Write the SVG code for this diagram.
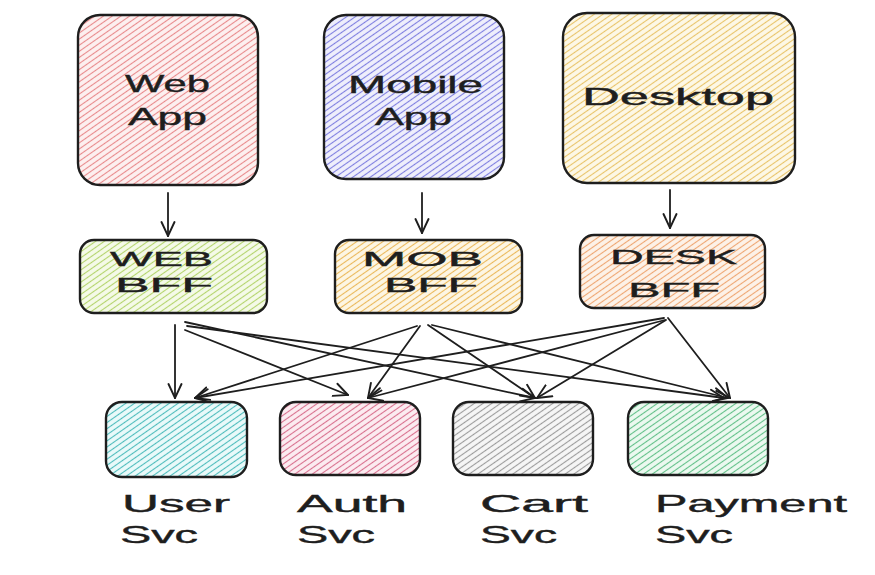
<svg xmlns="http://www.w3.org/2000/svg" width="875" height="575" viewBox="0 0 875 575">
<style>
.box{stroke:#1e1e1e;stroke-width:2.4;}
.lbl{font-family:"Liberation Sans","DejaVu Sans",sans-serif;font-size:24px;fill:#1e1e1e;stroke:#1e1e1e;stroke-width:0.4;}
.sm{font-size:21px;}
.con{fill:none;stroke:#1e1e1e;stroke-width:1.8;stroke-linecap:round;}
</style>
<defs>
<marker id="ah" viewBox="0 0 16 16" refX="15" refY="8" markerWidth="16" markerHeight="16" markerUnits="userSpaceOnUse" orient="auto">
<path d="M1,1.5 L15,8 L1,14.5" fill="none" stroke="#1e1e1e" stroke-width="1.9" stroke-linecap="round"/>
</marker>
<pattern id="pRed" patternUnits="userSpaceOnUse" width="5" height="5" patternTransform="rotate(-35)"><rect width="5" height="5" fill="#fdf0f0"/><line x1="0" y1="2.5" x2="5" y2="2.5" stroke="#e88a8c" stroke-width="1.1"/></pattern>
<pattern id="pPurple" patternUnits="userSpaceOnUse" width="5" height="5" patternTransform="rotate(-35)"><rect width="5" height="5" fill="#efeffc"/><line x1="0" y1="2.5" x2="5" y2="2.5" stroke="#7f7fe0" stroke-width="1.1"/></pattern>
<pattern id="pYellow" patternUnits="userSpaceOnUse" width="5" height="5" patternTransform="rotate(-35)"><rect width="5" height="5" fill="#fdf8e6"/><line x1="0" y1="2.5" x2="5" y2="2.5" stroke="#e8c46a" stroke-width="1.1"/></pattern>
<pattern id="pGreenY" patternUnits="userSpaceOnUse" width="5" height="5" patternTransform="rotate(-35)"><rect width="5" height="5" fill="#f5fae8"/><line x1="0" y1="2.5" x2="5" y2="2.5" stroke="#b4d46c" stroke-width="1.1"/></pattern>
<pattern id="pOrangeY" patternUnits="userSpaceOnUse" width="5" height="5" patternTransform="rotate(-35)"><rect width="5" height="5" fill="#fdf6e4"/><line x1="0" y1="2.5" x2="5" y2="2.5" stroke="#eab85a" stroke-width="1.1"/></pattern>
<pattern id="pOrange" patternUnits="userSpaceOnUse" width="5" height="5" patternTransform="rotate(-35)"><rect width="5" height="5" fill="#fdf2e8"/><line x1="0" y1="2.5" x2="5" y2="2.5" stroke="#eea672" stroke-width="1.1"/></pattern>
<pattern id="pTeal" patternUnits="userSpaceOnUse" width="5" height="5" patternTransform="rotate(-35)"><rect width="5" height="5" fill="#eafafa"/><line x1="0" y1="2.5" x2="5" y2="2.5" stroke="#4fbcbc" stroke-width="1.1"/></pattern>
<pattern id="pPink" patternUnits="userSpaceOnUse" width="5" height="5" patternTransform="rotate(-35)"><rect width="5" height="5" fill="#fcecf1"/><line x1="0" y1="2.5" x2="5" y2="2.5" stroke="#d8708e" stroke-width="1.1"/></pattern>
<pattern id="pGray" patternUnits="userSpaceOnUse" width="5" height="5" patternTransform="rotate(-35)"><rect width="5" height="5" fill="#f6f6f6"/><line x1="0" y1="2.5" x2="5" y2="2.5" stroke="#9c9c9c" stroke-width="1.1"/></pattern>
<pattern id="pGreen" patternUnits="userSpaceOnUse" width="5" height="5" patternTransform="rotate(-35)"><rect width="5" height="5" fill="#ecf9f0"/><line x1="0" y1="2.5" x2="5" y2="2.5" stroke="#62c088" stroke-width="1.1"/></pattern>
</defs>
<rect width="875" height="575" fill="#ffffff"/>

<g id="web-app">
<rect class="box" x="78" y="15" width="180" height="170" rx="22" fill="url(#pRed)"/>
<text class="lbl" x="125" y="92" textLength="85" lengthAdjust="spacingAndGlyphs">Web</text>
<text class="lbl" x="128" y="125" textLength="79" lengthAdjust="spacingAndGlyphs">App</text>
</g>
<g id="mobile-app">
<rect class="box" x="324" y="15" width="180" height="164" rx="22" fill="url(#pPurple)"/>
<text class="lbl" x="348" y="93" textLength="135" lengthAdjust="spacingAndGlyphs">Mobile</text>
<text class="lbl" x="375" y="125" textLength="77" lengthAdjust="spacingAndGlyphs">App</text>
</g>
<g id="desktop">
<rect class="box" x="563" y="13" width="232" height="170" rx="24" fill="url(#pYellow)"/>
<text class="lbl" x="582" y="105" textLength="192" lengthAdjust="spacingAndGlyphs">Desktop</text>
</g>

<g id="web-bff">
<rect class="box" x="80" y="240" width="187" height="73" rx="14" fill="url(#pGreenY)"/>
<text class="lbl sm" x="110" y="266" textLength="103" lengthAdjust="spacingAndGlyphs">WEB</text>
<text class="lbl sm" x="115" y="292" textLength="98" lengthAdjust="spacingAndGlyphs">BFF</text>
</g>
<g id="mob-bff">
<rect class="box" x="335" y="240" width="187" height="73" rx="14" fill="url(#pOrangeY)"/>
<text class="lbl sm" x="362" y="266" textLength="121" lengthAdjust="spacingAndGlyphs">MOB</text>
<text class="lbl sm" x="384" y="292" textLength="94" lengthAdjust="spacingAndGlyphs">BFF</text>
</g>
<g id="desk-bff">
<rect class="box" x="580" y="235" width="185" height="73" rx="14" fill="url(#pOrange)"/>
<text class="lbl sm" x="610" y="264" textLength="127" lengthAdjust="spacingAndGlyphs">DESK</text>
<text class="lbl sm" x="628" y="297" textLength="92" lengthAdjust="spacingAndGlyphs">BFF</text>
</g>

<g id="user-svc">
<rect class="box" x="106" y="402" width="141" height="75" rx="16" fill="url(#pTeal)"/>
<text class="lbl" x="122" y="512" textLength="108" lengthAdjust="spacingAndGlyphs">User</text>
<text class="lbl" x="120" y="543" textLength="78" lengthAdjust="spacingAndGlyphs">Svc</text>
</g>
<g id="auth-svc">
<rect class="box" x="280" y="402" width="140" height="73" rx="16" fill="url(#pPink)"/>
<text class="lbl" x="297" y="512" textLength="110" lengthAdjust="spacingAndGlyphs">Auth</text>
<text class="lbl" x="297" y="543" textLength="78" lengthAdjust="spacingAndGlyphs">Svc</text>
</g>
<g id="cart-svc">
<rect class="box" x="453" y="402" width="140" height="73" rx="16" fill="url(#pGray)"/>
<text class="lbl" x="480" y="512" textLength="108" lengthAdjust="spacingAndGlyphs">Cart</text>
<text class="lbl" x="480" y="543" textLength="77" lengthAdjust="spacingAndGlyphs">Svc</text>
</g>
<g id="payment-svc">
<rect class="box" x="628" y="402" width="140" height="73" rx="16" fill="url(#pGreen)"/>
<text class="lbl" x="655" y="512" textLength="192" lengthAdjust="spacingAndGlyphs">Payment</text>
<text class="lbl" x="655" y="543" textLength="78" lengthAdjust="spacingAndGlyphs">Svc</text>
</g>

<g id="connectors">
<line class="con" x1="168" y1="193" x2="168" y2="236" marker-end="url(#ah)"/>
<line class="con" x1="422" y1="193" x2="422" y2="233" marker-end="url(#ah)"/>
<line class="con" x1="670" y1="190" x2="670" y2="228" marker-end="url(#ah)"/>

<line class="con" x1="175" y1="325" x2="175" y2="398" marker-end="url(#ah)"/>
<line class="con" x1="185" y1="330" x2="348" y2="395" marker-end="url(#ah)"/>
<line class="con" x1="185" y1="322" x2="535" y2="398" marker-end="url(#ah)"/>
<line class="con" x1="187" y1="326" x2="724" y2="398" marker-end="url(#ah)"/>

<line class="con" x1="417" y1="326" x2="195" y2="398" marker-end="url(#ah)"/>
<line class="con" x1="420" y1="326" x2="368" y2="398" marker-end="url(#ah)"/>
<line class="con" x1="428" y1="325" x2="535" y2="398" marker-end="url(#ah)"/>
<line class="con" x1="432" y1="325" x2="728" y2="398" marker-end="url(#ah)"/>

<line class="con" x1="664" y1="318" x2="195" y2="398" marker-end="url(#ah)"/>
<line class="con" x1="665" y1="320" x2="368" y2="398" marker-end="url(#ah)"/>
<line class="con" x1="666" y1="320" x2="537" y2="398" marker-end="url(#ah)"/>
<line class="con" x1="668" y1="318" x2="730" y2="398" marker-end="url(#ah)"/>
</g>
</svg>
